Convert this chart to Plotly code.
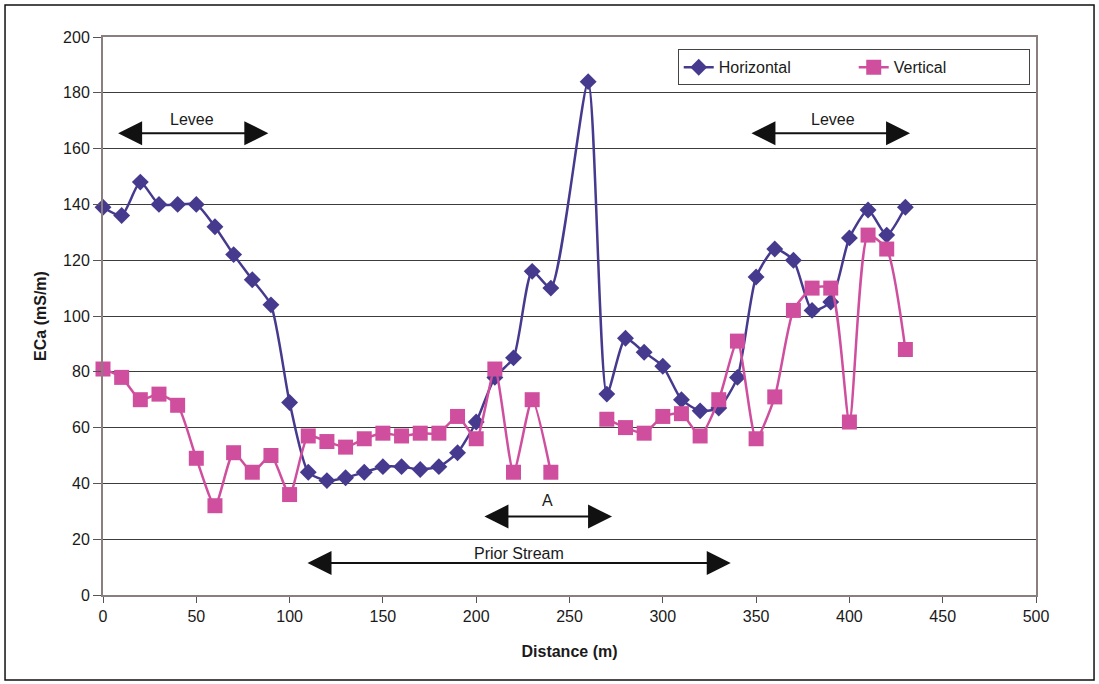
import plotly.graph_objects as go

# EM conductivity survey along the transect
dist_h = [0, 10, 20, 30, 40, 50, 60, 70, 80, 90, 100, 110, 120, 130, 140, 150,
          160, 170, 180, 190, 200, 210, 220, 230, 240, 260, 270, 280, 290, 300,
          310, 320, 330, 340, 350, 360, 370, 380, 390, 400, 410, 420, 430]
eca_horizontal = [139, 136, 148, 140, 140, 140, 132, 122, 113, 104, 69, 44, 41, 42,
                  44, 46, 46, 45, 46, 51, 62, 78, 85, 116, 110, 184, 72, 92, 87, 82,
                  70, 66, 67, 78, 114, 124, 120, 102, 105, 128, 138, 129, 139]

dist_v = [0, 10, 20, 30, 40, 50, 60, 70, 80, 90, 100, 110, 120, 130, 140, 150,
          160, 170, 180, 190, 200, 210, 220, 230, 240, 250, 260, 270, 280, 290,
          300, 310, 320, 330, 340, 350, 360, 370, 380, 390, 400, 410, 420, 430]
eca_vertical = [81, 78, 70, 72, 68, 49, 32, 51, 44, 50, 36, 57, 55, 53, 56, 58,
                57, 58, 58, 64, 56, 81, 44, 70, 44, None, None, 63, 60, 58,
                64, 65, 57, 70, 91, 56, 71, 102, 110, 110, 62, 129, 124, 88]

x_ticks = [0, 50, 100, 150, 200, 250, 300, 350, 400, 450, 500]
y_ticks = [0, 20, 40, 60, 80, 100, 120, 140, 160, 180, 200]

# Annotated zones: (label, start, end, arrow height, label x, label y)
zones = [
    ("Levee", 7.3, 88.6, 165.5, 47.7, 170.5),
    ("Levee", 346.7, 432.5, 165.5, 391.0, 170.5),
    ("A", 203.6, 272.8, 28.1, 238.0, 33.8),
    ("Prior Stream", 108.8, 336.4, 11.5, 223.0, 14.9),
]

FONT = "Arial, Liberation Sans, sans-serif"
BLUE = "#463a8e"
PINK = "#cf4f9e"
TEXT = "#1a1a1a"

fig = go.Figure()
fig.add_trace(go.Scatter(
    x=dist_h, y=eca_horizontal, name="Horizontal", mode="lines+markers",
    cliponaxis=False,
    line=dict(color=BLUE, width=2.5, shape="spline", smoothing=0.6),
    marker=dict(symbol="diamond", size=13, color=BLUE),
))
fig.add_trace(go.Scatter(
    x=dist_v, y=eca_vertical, name="Vertical", mode="lines+markers",
    connectgaps=False, cliponaxis=False,
    line=dict(color=PINK, width=2.5, shape="spline", smoothing=0.6),
    marker=dict(symbol="square", size=15, color=PINK),
))

annotations = []
for label, x0, x1, ya, tx, ty in zones:
    annotations.append(dict(
        x=x1, y=ya, ax=x0, ay=ya, xref="x", yref="y", axref="x", ayref="y",
        text="", showarrow=True, arrowside="end+start",
        arrowhead=2, startarrowhead=2, arrowsize=2.4, startarrowsize=2.4,
        arrowwidth=2, arrowcolor="#111111", standoff=0, startstandoff=0,
    ))
    annotations.append(dict(
        x=tx, y=ty, xref="x", yref="y", text=label, showarrow=False,
        font=dict(family=FONT, size=16, color=TEXT),
    ))

fig.update_layout(
    width=1099, height=684,
    margin=dict(l=103, r=63, t=37, b=89),
    paper_bgcolor="white", plot_bgcolor="white",
    font=dict(family=FONT, size=16, color=TEXT),
    showlegend=True,
    legend=dict(
        orientation="h", x=0.616, y=0.978, xanchor="left", yanchor="top",
        bordercolor="#444444", borderwidth=1, bgcolor="white",
        entrywidth=130, entrywidthmode="pixels",
        font=dict(family=FONT, size=16, color=TEXT),
    ),
    xaxis=dict(
        range=[0, 500], tickvals=x_ticks, ticktext=[str(v) for v in x_ticks],
        showgrid=False, zeroline=False,
        showline=True, mirror=True, linecolor="#8a7e7e", linewidth=2,
        ticks="outside", ticklen=6, tickcolor="#555555",
        tickfont=dict(family=FONT, size=16, color=TEXT),
        title=dict(text="<b>Distance (m)</b>", standoff=22,
                   font=dict(family=FONT, size=16, color=TEXT)),
    ),
    yaxis=dict(
        range=[0, 200], tickvals=y_ticks, ticktext=[str(v) for v in y_ticks],
        showgrid=True, gridcolor="#3c3c3c", gridwidth=1, zeroline=False,
        showline=True, mirror=True, linecolor="#8a7e7e", linewidth=2,
        ticks="outside", ticklen=8, tickcolor="#555555",
        tickfont=dict(family=FONT, size=16, color=TEXT),
        title=dict(text="<b>ECa (mS/m)</b>", standoff=12,
                   font=dict(family=FONT, size=16, color=TEXT)),
    ),
    annotations=annotations,
    shapes=[dict(
        type="rect", xref="paper", yref="paper",
        x0=-0.105, x1=1.0622, y0=-0.1523, y1=1.0573,
        line=dict(color="#111111", width=1.5), fillcolor="rgba(0,0,0,0)",
        layer="below",
    )],
)

fig.write_html("out.html")
